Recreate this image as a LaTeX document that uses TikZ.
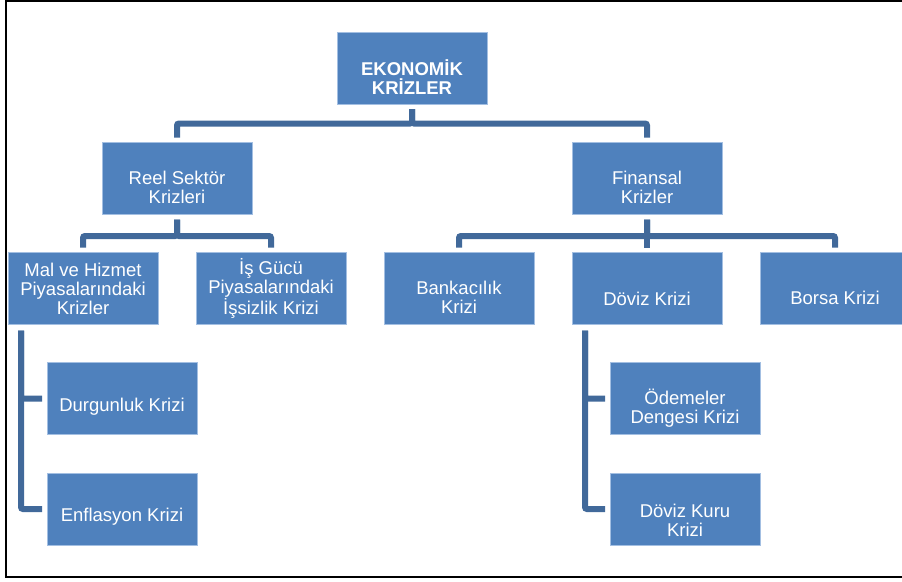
\documentclass[tikz,border=0pt]{standalone}
\usepackage{fontspec}
\setmainfont{Liberation Sans}
\definecolor{boxblue}{HTML}{4F81BD}
\definecolor{linkblue}{HTML}{41699A}
\definecolor{edgeblue}{HTML}{A3BFE2}
\begin{document}
\begin{tikzpicture}[x=1pt,y=-1pt,
  box/.style={fill=boxblue, draw=edgeblue, line width=0.6pt, minimum width=150pt, minimum height=72pt, inner sep=0pt, outer sep=0pt},
  txt/.style={text=white, align=center, font=\fontsize{18.5}{19}\selectfont, inner sep=0pt},
  conn/.style={draw=linkblue, line width=6pt, rounded corners=2pt}]
\useasboundingbox (0,0) rectangle (902,581);
\draw[line width=2pt] (5.5,0.8) rectangle (920,577);

\node[box, label={[txt,font=\fontsize{18.5}{19}\selectfont\bfseries,yshift=-9pt]center:{EKONOMİK\\KRİZLER}}] (eko) at (412,68) {};
\node[box, label={[txt,yshift=-9pt]center:{Reel Sektör\\Krizleri}}] (reel) at (177,178.5) {};
\node[box, label={[txt,yshift=-9pt]center:{Finansal\\Krizler}}] (fin) at (647,178.5) {};
\node[box, label={[txt,yshift=0pt]center:{Mal ve Hizmet\\Piyasalarındaki\\Krizler}}] (mal) at (83,288.5) {};
\node[box, label={[txt,yshift=0pt]center:{İş Gücü\\Piyasalarındaki\\İşsizlik Krizi}}] (isg) at (271,288.5) {};
\node[box, label={[txt,yshift=-9pt]center:{Bankacılık\\Krizi}}] (bank) at (459,288.5) {};
\node[box, label={[txt,yshift=-10pt]center:{Döviz Krizi}}] (dov) at (647,288.5) {};
\node[box, label={[txt,yshift=-9pt]center:{Borsa Krizi}}] (borsa) at (835,288.5) {};
\node[box, label={[txt,yshift=-8pt]center:{Durgunluk Krizi}}] (durg) at (122,398.7) {};
\node[box, label={[txt,yshift=-8pt]center:{Enflasyon Krizi}}] (enf) at (122,509) {};
\node[box, label={[txt,yshift=-9pt]center:{Ödemeler\\Dengesi Krizi}}] (ode) at (685,398.7) {};
\node[box, label={[txt,yshift=-11pt]center:{Döviz Kuru\\Krizi}}] (kur) at (685,509) {};

\draw[conn] ([yshift=-5pt]eko.south) -- ++(0,14.5) -| ([yshift=5pt]reel.north);
\draw[conn] ([yshift=-5pt]eko.south) -- ++(0,14.5) -| ([yshift=5pt]fin.north);
\draw[conn] ([yshift=-5pt]reel.south) -- ++(0,16.5) -| ([yshift=5pt]mal.north);
\draw[conn] ([yshift=-5pt]reel.south) -- ++(0,16.5) -| ([yshift=5pt]isg.north);
\draw[conn] ([yshift=-5pt]fin.south) -- ++(0,16.5) -| ([yshift=5pt]bank.north);
\draw[conn] ([yshift=-5pt]fin.south) -- ([yshift=5pt]dov.north);
\draw[conn] ([yshift=-5pt]fin.south) -- ++(0,16.5) -| ([yshift=5pt]borsa.north);
\draw[conn] ([xshift=13pt,yshift=-6pt]mal.south west) |- ([xshift=-5pt]durg.west);
\draw[conn] ([xshift=13pt,yshift=-6pt]mal.south west) |- ([xshift=-5pt]enf.west);
\draw[conn] ([xshift=13pt,yshift=-6pt]dov.south west) |- ([xshift=-5pt]ode.west);
\draw[conn] ([xshift=13pt,yshift=-6pt]dov.south west) |- ([xshift=-5pt]kur.west);
\end{tikzpicture}
\end{document}
